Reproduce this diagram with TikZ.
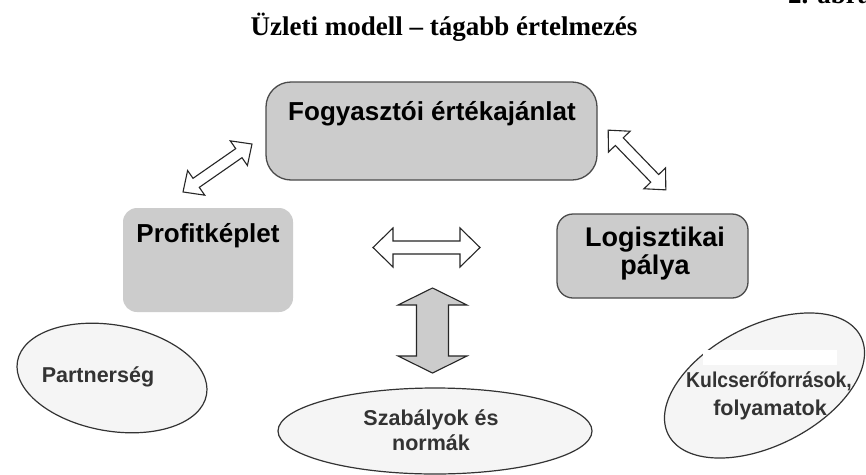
\documentclass[tikz,border=0pt]{standalone}
\usepackage{fontspec}
\setmainfont{Liberation Serif}
\newfontfamily\arialfont{Liberation Sans}
\usetikzlibrary{shapes.geometric}
\definecolor{boxgray}{HTML}{CCCCCC}
\definecolor{edgegray}{HTML}{4A4A4A}
\definecolor{ellfill}{HTML}{F5F5F5}
\definecolor{txtdark}{HTML}{333333}
\newcommand{\BlockArrow}[7]{%
  \begin{scope}[shift={#1},rotate=#2]
  \draw[#7] ({-#3/2},0) -- ({-#3/2+#4},{#5}) -- ({-#3/2+#4},{#6}) -- ({#3/2-#4},{#6})
    -- ({#3/2-#4},{#5}) -- ({#3/2},0) -- ({#3/2-#4},{-#5}) -- ({#3/2-#4},{-#6})
    -- ({-#3/2+#4},{-#6}) -- ({-#3/2+#4},{-#5}) -- cycle;
  \end{scope}}
\tikzset{
  boxtext/.style={font=\arialfont\bfseries\fontsize{26}{30}\selectfont, inner sep=0, anchor=base},
  elltext/.style={font=\arialfont\bfseries\fontsize{21.5}{26}\selectfont, text=txtdark, inner sep=0, anchor=base},
  ellbox/.style={ellipse, draw=txtdark, line width=1.2pt, fill=ellfill, inner sep=0},
  arrline/.style={draw=black!85, line width=1.1pt, line join=miter},
}
\begin{document}
\begin{tikzpicture}[x=1pt,y=-1pt]
\useasboundingbox (0,0) rectangle (866,474);
\clip (0,0) rectangle (866,474);
\fill[white] (0,0) rectangle (866,474);
% title and figure number
\node[font=\bfseries\fontsize{27}{30}\selectfont, inner sep=0, anchor=base] (title) at (444,35) {Üzleti modell – tágabb értelmezés};
\node[font=\bfseries\fontsize{27}{30}\selectfont, inner sep=0, anchor=base west] (fignum) at (788,3) {2. ábra};
% boxes
\node[draw=edgegray, line width=1.3pt, fill=boxgray, rounded corners=25pt, minimum width=331pt, minimum height=98pt, inner sep=0] (fva) at (431.5,131) {};
\node[boxtext] (fvatext) at (432,120) {Fogyasztói értékajánlat};
\node[fill=boxgray, rounded corners=14pt, minimum width=170pt, minimum height=104pt, inner sep=0] (pk) at (208,260) {};
\node[boxtext] (pktext) at (208,242) {Profitképlet};
\node[draw=edgegray, line width=1.3pt, fill=boxgray, rounded corners=16pt, minimum width=191pt, minimum height=84pt, inner sep=0] (lp) at (652.5,256) {};
\node[boxtext, font=\arialfont\bfseries\fontsize{27}{30}\selectfont] (lptext1) at (655,246) {Logisztikai};
\node[boxtext, font=\arialfont\bfseries\fontsize{27}{30}\selectfont] (lptext2) at (655,274) {pálya};
% block arrows
\BlockArrow{(217.5,168)}{34.8}{84}{16}{15}{5.5}{arrline, fill=white}
\BlockArrow{(637,160)}{-46}{83}{16}{15}{5.5}{arrline, fill=white}
\BlockArrow{(426.5,247.5)}{0}{107}{20}{19.5}{6.5}{arrline, fill=white}
\BlockArrow{(432.5,330.5)}{90}{85}{17}{34.5}{16}{arrline, fill=boxgray}
% ellipses
\node[ellbox, minimum width=192pt, minimum height=106pt, rotate=-10] (pe) at (112,378) {};
\node[elltext] (petext) at (98,382) {Partnerség};
\node[ellbox, minimum width=314pt, minimum height=86pt] (sz) at (435,431) {};
\node[elltext] (sztext1) at (431,425) {Szabályok és};
\node[elltext] (sztext2) at (431,450) {normák};
\node[ellbox, minimum width=216pt, minimum height=120pt, rotate=27] (ku) at (764.5,385.5) {};
\fill[white] (703,350) rectangle (837,365);
\node[elltext, xscale=0.9] (kutext1) at (769,387) {Kulcserőforrások,};
\node[elltext] (kutext2) at (770,415) {folyamatok};
\end{tikzpicture}
\end{document}
